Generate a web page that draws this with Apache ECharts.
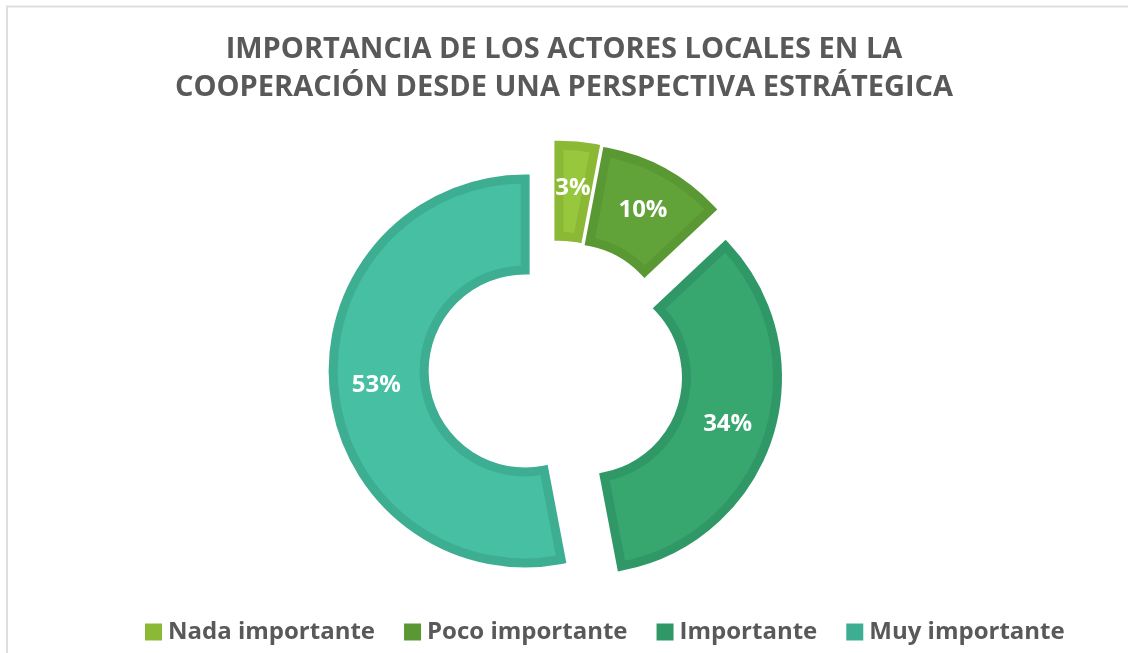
<!DOCTYPE html>
<html>
<head>
<meta charset="utf-8">
<style>
  html, body { margin: 0; padding: 0; background: #fff; }
  #chart { width: 1128px; height: 653px; }
</style>
<script src="https://cdn.jsdelivr.net/npm/echarts@6/dist/echarts.min.js"></script>
</head>
<body>
<div id="chart"></div>
<script>
/* === Data === */
const categories = ['Nada importante', 'Poco importante', 'Importante', 'Muy importante'];
const values = [3, 10, 34, 53];

/* === Colors: [fill, border] === */
const SLICE_COLORS = [
  ['#97C73D', '#8BB935'],
  ['#61A338', '#5A9833'],
  ['#37A66F', '#309866'],
  ['#46BFA2', '#3EAE93']
];
const FONT = "'Open Sans', 'Noto Sans', sans-serif";

function initChart() {
  const el = document.getElementById('chart');
  const chart = echarts.init(el);

  const pieData = categories.map((name, i) => {
    const style = {
      color: SLICE_COLORS[i][0], borderColor: SLICE_COLORS[i][1],
      borderWidth: 9, borderJoin: 'miter', borderMiterLimit: 10
    };
    return { name, value: values[i], selected: true, itemStyle: style, select: { itemStyle: style } };
  });

  chart.setOption({
    animation: false,
    backgroundColor: '#fff',
    title: {
      text: 'IMPORTANCIA DE LOS ACTORES LOCALES EN LA\nCOOPERACIÓN DESDE UNA PERSPECTIVA ESTRÁTEGICA',
      left: 'center',
      top: 31,
      padding: [0, 0, 0, 20],
      textStyle: {
        color: '#595959', fontSize: 29, fontWeight: 'bold',
        lineHeight: 38, fontFamily: FONT
      }
    },
    legend: {
      left: 140,
      top: 614,
      itemWidth: 17,
      itemHeight: 17,
      itemGap: 29,
      icon: 'rect',
      selectedMode: false,
      data: categories.map((name, i) => ({ name, itemStyle: { color: SLICE_COLORS[i][1], borderWidth: 0 } })),
      textStyle: {
        color: '#595959', fontSize: 24, fontWeight: 'bold',
        lineHeight: 26, fontFamily: FONT, padding: [0, 0, 0, 1]
      }
    },
    graphic: [{
      type: 'rect',
      shape: { x: 7, y: 6.5, width: 1200, height: 700 },
      style: { fill: 'none', stroke: '#DEDEDE', lineWidth: 2 },
      silent: true
    }],
    series: [{
      type: 'pie',
      center: [556, 368],
      radius: [101, 192],
      startAngle: 90,
      clockwise: true,
      selectedMode: 'multiple',
      selectedOffset: 31,
      avoidLabelOverlap: false,
      emphasis: { disabled: true },
      label: {
        show: true,
        position: 'inside',
        formatter: '{c}%',
        color: '#fff',
        fontSize: 24,
        fontWeight: 'bold',
        fontFamily: FONT
      },
      labelLine: { show: false },
      data: pieData
    }]
  });
  window.addEventListener('resize', () => chart.resize());
}

initChart();
</script>
</body>
</html>
